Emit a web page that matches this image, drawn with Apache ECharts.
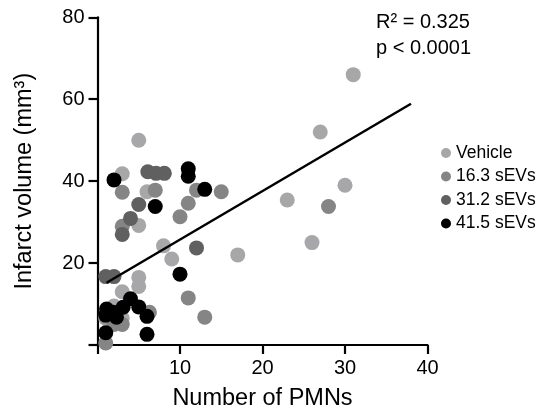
<!DOCTYPE html>
<html>
<head>
<meta charset="utf-8">
<script src="https://cdn.jsdelivr.net/npm/echarts@6/dist/echarts.min.js"></script>
<style>html,body{margin:0;padding:0;background:#fff}#c{width:544px;height:416px}</style>
</head>
<body>
<div id="c"></div>
<script>
var seriesNames = ['Vehicle', '16.3 sEVs', '31.2 sEVs', '41.5 sEVs'];
var vehicle = [[31,66],[27,52],[30,39],[23,35.4],[26,25],[17,22],[8,24.2],[9,21],[5,50],[3,41.8],[6,37.4],[5,29.2],[5,16.5],[5,14.3],[3,13],[1,6.5],[2,9.5],[3,6.5]];
var sev16 = [[28,33.8],[13,6.8],[11,11.5],[10,31.3],[11,34.6],[12,37.8],[15,37.4],[7,37.8],[3,37.3],[3,29],[1,0.5],[3,5],[6.3,8],[2,5],[1,7]];
var sev31 = [[12,23.7],[6.1,42.3],[7.1,41.9],[8.1,41.9],[5,34.3],[4,30.9],[3,27],[1,16.7],[2,16.7]];
var sev41 = [[2,40.3],[11,43],[11,41.2],[13,38],[7,33.8],[10,17.3],[6,2.6],[6,7],[5,9.3],[4,11.3],[3.1,9.2],[2.3,6.8],[1.9,8],[1.1,8.8],[1,7.3],[1,3]];
var fitLine = [[1.1,15.2],[38,58.9]];
var statsText = ['R\u00b2 = 0.325', 'p < 0.0001'];
var colors = ['#a7a7a9', '#858585', '#606060', '#000000'];

var chart = echarts.init(document.getElementById('c'));
var font = 'Liberation Sans, Arial, sans-serif';
var datasets = [vehicle, sev16, sev31, sev41];
var series = datasets.map(function (d, i) {
  return {
    name: seriesNames[i], type: 'scatter', data: d, symbol: 'circle', symbolSize: 15,
    itemStyle: { color: colors[i], opacity: 1 }, z: 2 + i
  };
});
series.push({
  name: 'fit', type: 'line', data: fitLine, symbol: 'none', silent: true,
  lineStyle: { color: '#000', width: 2.5 }, z: 10
});
chart.setOption({
  animation: false,
  title: {
    text: statsText.join('\n'), left: 371, top: 4,
    textStyle: { fontFamily: font, fontSize: 20, fontWeight: 'normal', color: '#000', lineHeight: 26 }
  },
  legend: {
    data: seriesNames, orient: 'vertical', left: 436, top: 139,
    icon: 'circle', itemWidth: 10, itemHeight: 10, itemGap: 5.5,
    textStyle: { fontFamily: font, fontSize: 17.5, color: '#000' }
  },
  grid: { left: 97.5, top: 17.3, width: 330, height: 331, containLabel: false },
  xAxis: {
    type: 'value', min: 0, max: 40, interval: 10,
    name: 'Number of PMNs', nameLocation: 'middle', nameGap: 42,
    nameTextStyle: { fontFamily: font, fontSize: 23.5, color: '#000' },
    axisLine: { show: true, lineStyle: { color: '#000', width: 2.2 } },
    axisTick: { show: true, length: 9, lineStyle: { color: '#000', width: 2.2 } },
    axisLabel: { fontFamily: font, fontSize: 20, color: '#000', margin: 13,
      formatter: function (v) { return v === 0 ? '' : String(v); } },
    splitLine: { show: false }
  },
  yAxis: {
    type: 'value', min: 0, max: 80, interval: 20,
    name: 'Infarct volume (mm\u00b3)', nameLocation: 'middle', nameGap: 61,
    nameTextStyle: { fontFamily: font, fontSize: 23.5, color: '#000' },
    axisLine: { show: true, lineStyle: { color: '#000', width: 2.2 } },
    axisTick: { show: true, length: 9, lineStyle: { color: '#000', width: 2.2 } },
    axisLabel: { fontFamily: font, fontSize: 20, color: '#000', margin: 13,
      formatter: function (v) { return v === 0 ? '' : String(v); } },
    splitLine: { show: false }
  },
  series: series
});
</script>
</body>
</html>
